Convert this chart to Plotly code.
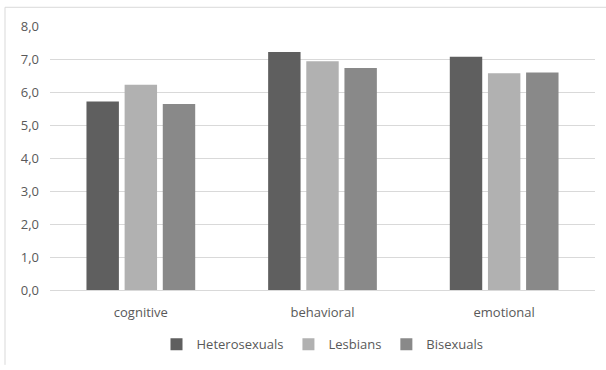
import plotly.graph_objects as go

categories = ["cognitive", "behavioral", "emotional"]
heterosexuals = [5.71, 7.21, 7.07]
lesbians = [6.22, 6.93, 6.57]
bisexuals = [5.64, 6.73, 6.59]
series_names = ["Heterosexuals", "Lesbians", "Bisexuals"]
colors = ["#5f5f5f", "#b1b1b1", "#898989"]

fig = go.Figure()
for name, vals, c in zip(series_names, [heterosexuals, lesbians, bisexuals], colors):
    fig.add_trace(go.Bar(x=categories, y=vals, name=name,
                         marker=dict(color=c, line=dict(width=0))))

W, H = 606, 370
L, R, T, B = 50, 11, 26, 76
pw, ph = W - L - R, H - T - B

def px(x):
    return (x - L) / pw

def py(y):
    return (H - B - y) / ph

fig.update_layout(
    width=W, height=H,
    margin=dict(l=L, r=R, t=T, b=B),
    paper_bgcolor="white", plot_bgcolor="white",
    barmode="group", bargap=0.37, bargroupgap=0.15,
    font=dict(family="Open Sans", size=13, color="#595959"),
    showlegend=True,
    legend=dict(orientation="h", x=0.5, xanchor="center", y=py(349), yanchor="middle",
                font=dict(size=13, color="#595959"), itemwidth=30, traceorder="normal"),
    xaxis=dict(showgrid=False, showline=False, ticks="", ticklabelstandoff=13,
               tickfont=dict(size=13, color="#595959")),
    yaxis=dict(range=[0, 8], dtick=1, tickformat=".1f", showgrid=True,
               gridcolor="#d9d9d9", gridwidth=1, zeroline=True, zerolinecolor="#d9d9d9",
               zerolinewidth=1, showline=False, ticks="", ticklabelstandoff=10,
               tickfont=dict(size=13, color="#595959")),
    separators=",.",
    shapes=[
        dict(type="line", xref="paper", yref="paper", x0=px(5), x1=px(606), y0=py(7), y1=py(7),
             line=dict(color="#d9d9d9", width=1)),
        dict(type="line", xref="paper", yref="paper", x0=px(5), x1=px(5), y0=py(7), y1=py(370),
             line=dict(color="#d9d9d9", width=1)),
    ],
)

fig.write_html("out.html")
